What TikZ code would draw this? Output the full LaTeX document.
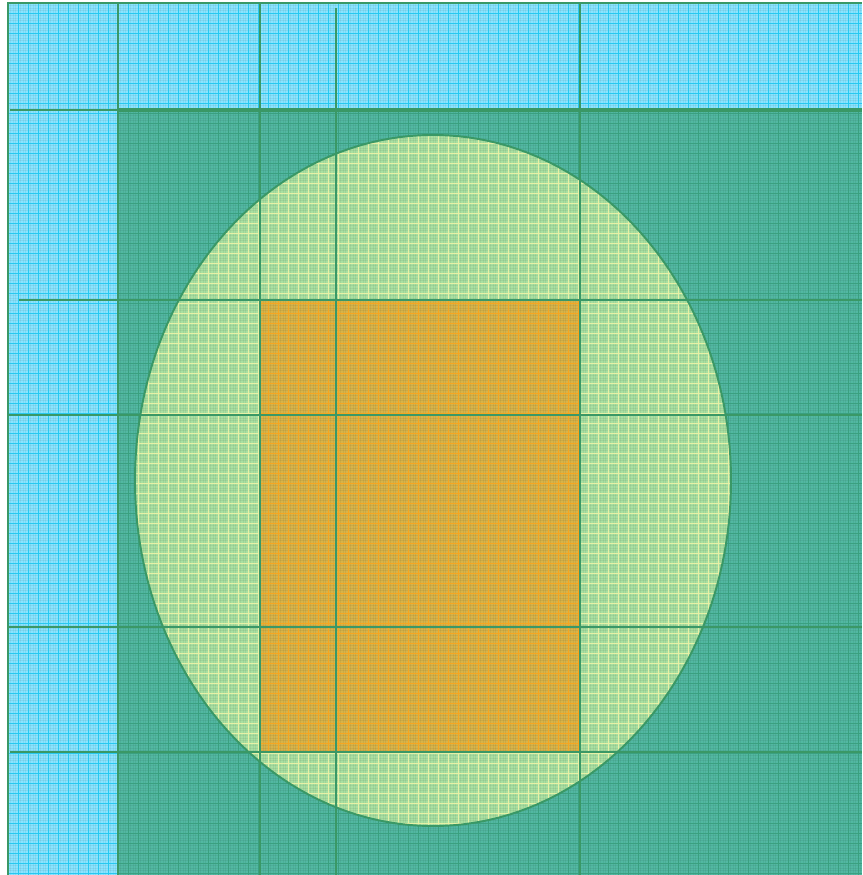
\documentclass[tikz,border=0pt]{standalone}
\usetikzlibrary{positioning}
\definecolor{cyanbg}{RGB}{138,228,255}
\definecolor{cyangrid}{RGB}{40,200,240}
\definecolor{tealbg}{RGB}{82,184,162}
\definecolor{tealgrid}{RGB}{58,160,128}
\definecolor{ellbg}{RGB}{168,224,162}
\definecolor{ellgrid}{RGB}{232,240,165}
\definecolor{orbg}{RGB}{214,180,74}
\definecolor{orgrid}{RGB}{246,166,32}
\definecolor{planline}{RGB}{58,152,102}
\newcommand{\coarsegrid}[1]{%
  \foreach \g in {8,18,...,862} \draw[#1,line width=0.5pt] (\g,3) -- (\g,875);
  \foreach \g in {3,13,...,875} \draw[#1,line width=0.5pt] (8,\g) -- (862,\g);}
\begin{document}
\begin{tikzpicture}[x=0.02cm,y=-0.02cm]
\useasboundingbox (0,0) rectangle (862,875);
% fills
\fill[cyanbg] (8,3) rectangle (862,875);
\fill[tealbg] (118,110) rectangle (862,875);
\fill[ellbg] (433,480.5) ellipse (298 and 345.5);
\fill[orbg] (260,300) rectangle (580,752);
% fine texture
\foreach \g in {8,10.5,...,862} \draw[black,opacity=0.05,line width=0.3pt] (\g,3) -- (\g,875);
\foreach \g in {3,5.5,...,875} \draw[black,opacity=0.05,line width=0.3pt] (8,\g) -- (862,\g);
% grids per region
\begin{scope}
  \clip (8,3) rectangle (862,875);
  \coarsegrid{cyangrid}
\end{scope}
\begin{scope}
  \clip (118,110) rectangle (862,875);
  \coarsegrid{tealgrid}
\end{scope}
\begin{scope}
  \clip (433,480.5) ellipse (298 and 345.5);
  \coarsegrid{ellgrid}
\end{scope}
\begin{scope}
  \clip (260,300) rectangle (580,752);
  \coarsegrid{orgrid}
\end{scope}
% outlines
\draw[planline,line width=1.1pt] (433,480.5) ellipse (298 and 345.5);
\draw[planline,line width=1.6pt] (8,875) -- (8,3) -- (862,3);
\draw[planline,line width=1.8pt] (118,110) -- (862,110);
\foreach \x/\a in {118/3,260/3,336/8,580/3} \draw[planline,line width=1.3pt] (\x,\a) -- (\x,875);
\foreach \y/\a in {110/10,300/19,415/8,627/8,752/10} \draw[planline,line width=1.3pt] (\a,\y) -- (862,\y);
\end{tikzpicture}
\end{document}
